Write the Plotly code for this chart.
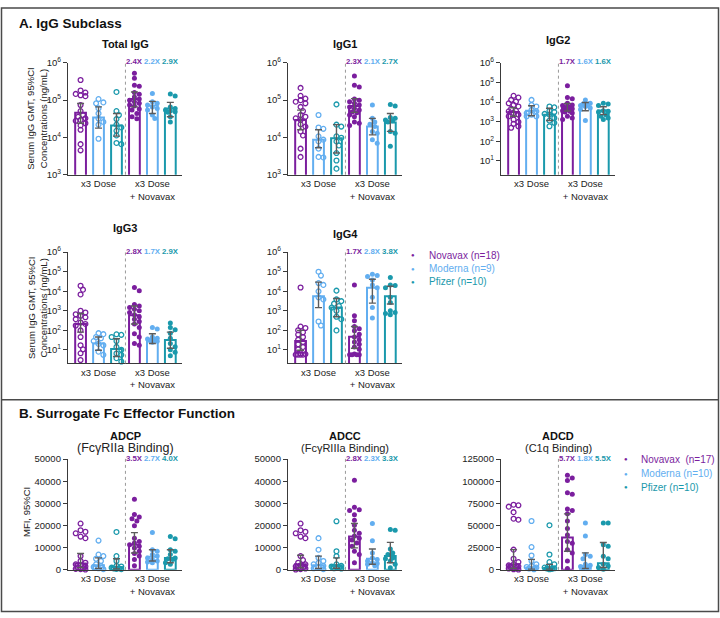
import math
import plotly.graph_objects as go

W, H = 720, 618
FONT = "Arial, Liberation Sans, Helvetica, sans-serif"
TXT = "#222222"
AX = "#3a3a3a"
PURPLE = "#7B1E9E"
MODERNA = "#62AEF0"
PFIZER = "#1A99AC"
GROUP_COLORS = [PURPLE, MODERNA, PFIZER, PURPLE, MODERNA, PFIZER]
GROUP_OPEN = [True, True, True, False, False, False]
CATEGORY_LABELS = ["x3 Dose", "x3 Dose<br>+ Novavax"]
FOLD_COLORS = [PURPLE, MODERNA, PFIZER]

# ---------------- data ----------------
# group order: Novavax x3, Moderna x3, Pfizer x3, Novavax +NVX, Moderna +NVX, Pfizer +NVX
TOTAL_IGG_POINTS = [
    [347000, 182000, 160000, 147000, 135000, 128000, 74000, 51000, 40000, 36000, 32500, 29500, 27800, 24000, 21000, 16000, 6600, 4500],
    [107000, 87000, 82000, 60000, 44000, 32000, 26000, 22000, 9200],
    [166000, 51000, 40000, 31000, 22000, 18500, 15000, 11300, 7100, 6600],
    [525000, 390000, 250000, 235000, 160000, 143000, 122000, 107000, 100000, 91000, 82000, 74000, 70000, 58000, 54000, 44000, 36000, 31500],
    [150000, 91000, 82000, 74000, 66000, 60000, 54000, 40000, 32000],
    [147000, 130000, 66000, 60000, 54000, 51000, 49000, 47000, 36000, 26000],
]
TOTAL_IGG_GMT = [46000, 34000, 21000, 107000, 72000, 60000]
TOTAL_IGG_CI_LO = [24000, 17700, 10800, 66000, 44000, 36000]
TOTAL_IGG_CI_HI = [81000, 66000, 44000, 166000, 93000, 87000]
TOTAL_IGG_FOLD = ["2.4X", "2.2X", "2.9X"]

IGG1_POINTS = [
    [213000, 131000, 110000, 100000, 91000, 82000, 66000, 51000, 40000, 36000, 32500, 29500, 22500, 19500, 14500, 11300, 5000, 3000],
    [40000, 18500, 17000, 10700, 8700, 7800, 5000, 3000, 2900],
    [77000, 22000, 19500, 10700, 9800, 7800, 6100, 3800, 2400, 1450],
    [445000, 250000, 225000, 107000, 100000, 91000, 82000, 74000, 66000, 60000, 54000, 48000, 46000, 40000, 36000, 26000, 24000, 21000],
    [74000, 32500, 26000, 22500, 19500, 14500, 13000, 8700, 7000],
    [76000, 70000, 34000, 32500, 29500, 28000, 26000, 14500, 13000, 5800],
]
IGG1_GMT = [29500, 8700, 9500, 70000, 19500, 25000]
IGG1_CI_LO = [16000, 5300, 3800, 47000, 11700, 14500]
IGG1_CI_HI = [54000, 16000, 22000, 110000, 32500, 44000]
IGG1_FOLD = ["2.3X", "2.1X", "2.7X"]

IGG2_POINTS = [
    [21000, 17000, 13000, 10700, 8700, 7200, 6000, 4600, 3600, 3400, 2750, 2300, 1900, 1300, 980, 780, 590, 490],
    [13000, 7200, 6000, 4000, 3400, 2750, 2300, 1900, 1900],
    [6000, 5400, 3600, 3100, 2500, 2300, 1550, 1150, 880, 590],
    [68000, 17000, 14700, 8700, 7200, 6700, 6000, 5400, 5000, 4600, 4200, 3600, 3400, 3100, 2750, 1900, 1550, 1300],
    [13000, 8700, 8000, 7200, 6700, 6000, 5000, 4200, 1150],
    [8700, 8000, 6700, 3600, 3400, 3100, 2300, 1900, 1550, 1300],
]
IGG2_GMT = [3100, 3600, 2300, 5300, 5800, 3700]
IGG2_CI_LO = [1900, 2000, 1150, 3500, 3600, 2300]
IGG2_CI_HI = [5200, 6500, 4900, 8500, 9500, 5800]
IGG2_FOLD = ["1.7X", "1.6X", "1.6X"]

IGG3_POINTS = [
    [19000, 12000, 6800, 1000, 810, 660, 550, 460, 370, 250, 210, 175, 98, 45, 17, 10.5, 6.6, 3.0],
    [71, 63, 45, 39, 28, 20, 17, 8, 5.5],
    [62, 58, 45, 28, 14, 10, 6.5, 5.5, 3.7, 2.5],
    [15500, 10700, 2100, 1750, 1450, 1180, 1000, 810, 620, 490, 370, 280, 210, 140, 66, 45, 21, 17],
    [140, 117, 45, 39, 36, 33, 30, 27, 24],
    [235, 140, 105, 71, 39, 21, 14.5, 10, 7.4, 5],
]
IGG3_GMT = [210, 21, 11, 580, 36, 32]
IGG3_CI_LO = [80, 9.5, 4.5, 210, 21, 12]
IGG3_CI_HI = [720, 45, 37, 1750, 66, 80]
IGG3_FOLD = ["2.8X", "1.7X", "2.9X"]

IGG4_POINTS = [
    [15500, 155, 130, 100, 78, 60, 45, 33, 25, 19, 14, 10.5, 6.6, 6, 5.6, 5.6, 5.6, 5.6],
    [100000, 63000, 26000, 21000, 9800, 4900, 3800, 280, 175],
    [10700, 3800, 3100, 2300, 1750, 1450, 1000, 490, 370, 98],
    [21000, 550, 310, 155, 120, 93, 63, 45, 33, 25, 19, 14, 10.5, 6, 5.6, 5.6, 5.6, 5.6],
    [73000, 63000, 56000, 38000, 21000, 15000, 4900, 1450, 420],
    [50000, 21000, 19800, 15000, 4900, 2600, 1000, 810, 720, 620],
]
IGG4_GMT = [28, 5500, 1450, 47, 15000, 5500]
IGG4_CI_LO = [9.5, 1450, 490, 12, 2450, 2200]
IGG4_CI_HI = [98, 29000, 4200, 155, 41000, 17800]
IGG4_FOLD = ["1.7X", "2.8X", "3.8X"]

ADCP_POINTS = [
    [20900, 17900, 17200, 16500, 15000, 14300, 6200, 4000, 3200, 2500, 2100, 1500, 1000, 700, 450, 300, 150],
    [13200, 6900, 6200, 5000, 4000, 2500, 1800, 1300, 700, 300],
    [17100, 6200, 4000, 1800, 1500, 1000, 700, 600, 450, 300],
    [31900, 25000, 23800, 23100, 22100, 19900, 14300, 12800, 12100, 11300, 10600, 9900, 8400, 7400, 6200, 4700, 1800],
    [16900, 9100, 8400, 6900, 6200, 5400, 4700, 4000, 3500, 3200],
    [15000, 14000, 9100, 8400, 6900, 5400, 5000, 4700, 3200, 2500],
]
ADCP_BAR = [2900, 2100, 1300, 11300, 5900, 5400]
ADCP_CI_LO = [1000, 600, 400, 7600, 4000, 3200]
ADCP_CI_HI = [7400, 5400, 5000, 16800, 9100, 9100]
ADCP_FOLD = ["3.5X", "2.7X", "4.0X"]

ADCC_POINTS = [
    [20900, 17900, 17200, 16500, 15000, 14300, 6200, 4400, 3200, 2500, 2100, 1600, 1200, 900, 600, 300, 150],
    [14300, 9100, 5400, 4000, 3200, 2500, 1800, 1300, 700, 300],
    [21900, 8400, 6200, 2500, 1800, 1500, 1300, 1000, 700, 600],
    [40400, 28200, 27100, 26800, 24900, 22400, 20100, 17900, 16500, 15300, 14300, 13500, 12100, 10600, 8400, 6900, 3200],
    [20900, 13100, 7600, 5400, 4700, 4000, 3200, 2900, 2500, 1800],
    [18200, 17900, 9400, 7600, 6900, 5400, 5000, 4000, 2500, 1000],
]
ADCC_BAR = [2500, 2100, 2100, 15000, 5000, 6200]
ADCC_CI_LO = [900, 600, 700, 9900, 2500, 3200]
ADCC_CI_HI = [6600, 6200, 5400, 20900, 9400, 12400]
ADCC_FOLD = ["2.8X", "2.3X", "3.3X"]

ADCD_POINTS = [
    [73500, 72800, 71300, 65100, 57700, 56600, 22800, 12500, 8800, 6200, 5100, 4000, 2900, 2200, 1500, 700, 400],
    [55100, 25700, 16200, 9900, 6200, 4400, 3300, 2600, 1500, 700],
    [50400, 17300, 8800, 6200, 3700, 2600, 1800, 1500, 1100, 700],
    [106600, 103700, 100700, 87100, 85300, 68700, 66900, 63200, 55100, 46700, 39300, 32000, 30100, 22800, 19100, 9900, 1500],
    [52900, 38200, 17300, 15400, 12500, 6200, 5100, 3700, 2600, 1500],
    [52900, 52900, 28300, 26500, 15400, 12500, 6200, 4400, 2600, 700],
]
ADCD_BAR = [6200, 2600, 2200, 36400, 4400, 7400]
ADCD_CI_LO = [1500, 700, 700, 21000, 1500, 2600]
ADCD_CI_HI = [22800, 11800, 6200, 63200, 19100, 30900]
ADCD_FOLD = ["5.7X", "1.8X", "5.5X"]

LEGEND_A = ["Novavax (n=18)", "Moderna (n=9)", "Pfizer (n=10)"]
LEGEND_B = ["Novavax  (n=17)", "Moderna (n=10)", "Pfizer (n=10)"]

LOG_TICKS_3 = [1e3, 1e4, 1e5, 1e6]
LOG_TICKS_1 = [1e1, 1e2, 1e3, 1e4, 1e5, 1e6]
LIN_TICKS_50 = [0, 10000, 20000, 30000, 40000, 50000]
LIN_TICKS_125 = [0, 25000, 50000, 75000, 100000, 125000]

# ---------------- layout geometry (pixels) ----------------
COL_X = [68, 288, 501]
AX_W = 114
ROW_Y = [(57, 171), (250, 363.5), (461, 574)]
XRANGE = [-0.7, 5.65]

PANELS = [
    dict(title="Total IgG", sub=None, col=0, row=0, log=True, yr=[3, 6], ticks=LOG_TICKS_3,
         pts=TOTAL_IGG_POINTS, bar=TOTAL_IGG_GMT, lo=TOTAL_IGG_CI_LO, hi=TOTAL_IGG_CI_HI, fold=TOTAL_IGG_FOLD, ty=38),
    dict(title="IgG1", sub=None, col=1, row=0, log=True, yr=[3, 6], ticks=LOG_TICKS_3,
         pts=IGG1_POINTS, bar=IGG1_GMT, lo=IGG1_CI_LO, hi=IGG1_CI_HI, fold=IGG1_FOLD, ty=38),
    dict(title="IgG2", sub=None, col=2, row=0, log=True, yr=[0.3, 6], ticks=LOG_TICKS_1,
         pts=IGG2_POINTS, bar=IGG2_GMT, lo=IGG2_CI_LO, hi=IGG2_CI_HI, fold=IGG2_FOLD, ty=34),
    dict(title="IgG3", sub=None, col=0, row=1, log=True, yr=[0.3, 6], ticks=LOG_TICKS_1,
         pts=IGG3_POINTS, bar=IGG3_GMT, lo=IGG3_CI_LO, hi=IGG3_CI_HI, fold=IGG3_FOLD, ty=225),
    dict(title="IgG4", sub=None, col=1, row=1, log=True, yr=[0.3, 6], ticks=LOG_TICKS_1,
         pts=IGG4_POINTS, bar=IGG4_GMT, lo=IGG4_CI_LO, hi=IGG4_CI_HI, fold=IGG4_FOLD, ty=231),
    dict(title="ADCP", sub="(FcγRIIa Binding)", subsize=12.5, col=0, row=2, log=False, yr=[0, 50000], ticks=LIN_TICKS_50,
         pts=ADCP_POINTS, bar=ADCP_BAR, lo=ADCP_CI_LO, hi=ADCP_CI_HI, fold=ADCP_FOLD, ty=437),
    dict(title="ADCC", sub="(FcγRIIIa Binding)", subsize=11, col=1, row=2, log=False, yr=[0, 50000], ticks=LIN_TICKS_50,
         pts=ADCC_POINTS, bar=ADCC_BAR, lo=ADCC_CI_LO, hi=ADCC_CI_HI, fold=ADCC_FOLD, ty=437),
    dict(title="ADCD", sub="(C1q Binding)", subsize=11, col=2, row=2, log=False, yr=[0, 125000], ticks=LIN_TICKS_125,
         pts=ADCD_POINTS, bar=ADCD_BAR, lo=ADCD_CI_LO, hi=ADCD_CI_HI, fold=ADCD_FOLD, ty=437),
]


def px_x(px):
    return px / W


def px_y(py):
    return 1 - py / H


def swarm(values, to_px, px_per_cat, diam=4.4, max_off=0.33):
    """Deterministic beeswarm offsets (category units) so points don't overlap."""
    order = sorted(range(len(values)), key=lambda i: -values[i])
    placed = []
    offs = [0.0] * len(values)
    step = diam * 0.55
    limit = max_off * px_per_cat
    cands = [0.0]
    k = 1
    while k * step <= limit:
        cands += [k * step, -k * step]
        k += 1
    for i in order:
        y = to_px(values[i])
        best, best_d, best_c = None, -1, 0.0
        for c in cands:
            d = min([math.hypot(c - px, y - py) for px, py in placed] or [99])
            if d >= diam:
                best = c
                break
            if d > best_d:
                best_d, best_c = d, c
        if best is None:
            best = best_c
        placed.append((best, y))
        offs[i] = best / px_per_cat
    return offs


fig = go.Figure()
layout = dict(
    width=W, height=H, margin=dict(l=0, r=0, t=0, b=0),
    paper_bgcolor="white", plot_bgcolor="white", showlegend=False,
    hovermode=False, font=dict(family=FONT, color=TXT, size=10),
)
annotations = []
shapes = []

for k, p in enumerate(PANELS, start=1):
    xs = "" if k == 1 else str(k)
    xname, yname = "x" + xs, "y" + xs
    x0 = COL_X[p["col"]]
    yt, yb = ROW_Y[p["row"]]
    hp = yb - yt
    px_per_cat = AX_W / (XRANGE[1] - XRANGE[0])
    r0, r1 = p["yr"]

    if p["log"]:
        ticktext = ["10<sup>%d</sup>" % round(math.log10(t)) for t in p["ticks"]]
        to_px = lambda v, r0=r0, r1=r1: (math.log10(v) - r0) / (r1 - r0) * hp
    else:
        ticktext = [str(int(t)) for t in p["ticks"]]
        to_px = lambda v, r0=r0, r1=r1: (v - r0) / (r1 - r0) * hp

    layout["xaxis" + xs] = dict(
        domain=[px_x(x0), px_x(x0 + AX_W)], range=XRANGE, anchor=yname,
        showline=True, linecolor=AX, linewidth=1.3, ticks="", showgrid=False, zeroline=False,
        tickvals=[1, 4], ticktext=CATEGORY_LABELS, tickfont=dict(size=9.5, color=TXT, family=FONT),
        fixedrange=True,
    )
    layout["yaxis" + xs] = dict(
        domain=[px_y(yb), px_y(yt)], type="log" if p["log"] else "linear", range=[r0, r1], anchor=xname,
        showline=True, linecolor=AX, linewidth=1.3, ticks="outside", ticklen=4, tickwidth=1.2, tickcolor=AX,
        showgrid=False, zeroline=False, tickvals=p["ticks"], ticktext=ticktext,
        tickfont=dict(size=9.5, color=TXT, family=FONT), fixedrange=True,
    )

    # bars
    fig.add_trace(go.Bar(
        x=list(range(6)), y=p["bar"], width=0.6, xaxis=xname, yaxis=yname,
        marker=dict(color="rgba(255,255,255,0)", line=dict(color=GROUP_COLORS, width=2)),
    ))
    # points
    for g in range(6):
        vals = p["pts"][g]
        offs = swarm(vals, to_px, px_per_cat)
        if GROUP_OPEN[g]:
            mk = dict(symbol="circle-open", size=4.8, color=GROUP_COLORS[g], line=dict(width=1.3))
        else:
            mk = dict(symbol="circle", size=5, color=GROUP_COLORS[g], line=dict(width=0))
        fig.add_trace(go.Scatter(
            x=[g + o for o in offs], y=vals, mode="markers", marker=mk,
            xaxis=xname, yaxis=yname, cliponaxis=False,
        ))
    # error bars
    fig.add_trace(go.Scatter(
        x=list(range(6)), y=p["bar"], mode="markers", xaxis=xname, yaxis=yname,
        marker=dict(size=1, color="rgba(0,0,0,0)"),
        error_y=dict(type="data", symmetric=False,
                     array=[h - b for h, b in zip(p["hi"], p["bar"])],
                     arrayminus=[b - l for b, l in zip(p["bar"], p["lo"])],
                     color="#5c5c5c", thickness=1.4, width=3.5),
        cliponaxis=False,
    ))
    # dotted separator
    shapes.append(dict(type="line", xref=xname, yref="paper", x0=2.5, x1=2.5,
                       y0=px_y(yb), y1=px_y(yt - 2), line=dict(color="#9a9a9a", width=1, dash="dot")))
    # fold-change labels
    for j, lab in enumerate(p["fold"]):
        annotations.append(dict(xref=xname, yref="paper", x=3 + j, y=px_y(yt - 1), text="<b>%s</b>" % lab,
                                showarrow=False, font=dict(size=7.8, color=FOLD_COLORS[j], family=FONT),
                                xanchor="center", yanchor="middle"))
    # titles
    cx = x0 + AX_W / 2
    annotations.append(dict(xref="paper", yref="paper", x=px_x(cx), y=px_y(p["ty"]), text="<b>%s</b>" % p["title"],
                            showarrow=False, font=dict(size=11, color="#111", family=FONT),
                            xanchor="center", yanchor="middle"))
    if p["sub"]:
        annotations.append(dict(xref="paper", yref="paper", x=px_x(cx), y=px_y(p["ty"] + 13), text=p["sub"],
                                showarrow=False, font=dict(size=p["subsize"], color=TXT, family=FONT),
                                xanchor="center", yanchor="middle"))

# section titles
annotations.append(dict(xref="paper", yref="paper", x=px_x(17), y=px_y(17), text="<b>A. IgG Subclass</b>",
                        showarrow=False, xanchor="left", yanchor="middle", font=dict(size=13.5, color="#111", family=FONT)))
annotations.append(dict(xref="paper", yref="paper", x=px_x(17), y=px_y(415),
                        text="<b>B. Surrogate Fc Effector Function</b>",
                        showarrow=False, xanchor="left", yanchor="middle", font=dict(size=13.5, color="#111", family=FONT)))

# y axis titles
for yc in (114, 307):
    annotations.append(dict(xref="paper", yref="paper", x=px_x(37), y=px_y(yc),
                            text="Serum IgG GMT, 95%CI<br>Concentrations (ng/mL)", textangle=-90,
                            showarrow=False, xanchor="center", yanchor="middle",
                            font=dict(size=9.5, color=TXT, family=FONT)))
annotations.append(dict(xref="paper", yref="paper", x=px_x(26), y=px_y(515), text="MFI, 95%CI", textangle=-90,
                        showarrow=False, xanchor="center", yanchor="middle", font=dict(size=9.5, color=TXT, family=FONT)))

# legends
for labels, mx, tx, ys in ((LEGEND_A, 413, 427, [253, 267, 280]), (LEGEND_B, 626, 639, [461, 476, 490])):
    for lab, col, yy in zip(labels, FOLD_COLORS, ys):
        annotations.append(dict(xref="paper", yref="paper", x=px_x(mx), y=px_y(yy), text="●", showarrow=False,
                                xanchor="center", yanchor="middle", font=dict(size=6, color=col, family=FONT)))
        annotations.append(dict(xref="paper", yref="paper", x=px_x(tx), y=px_y(yy), text=lab, showarrow=False,
                                xanchor="left", yanchor="middle", font=dict(size=10, color=col, family=FONT)))

# frame and divider
shapes.append(dict(type="rect", xref="paper", yref="paper", x0=px_x(1.5), x1=px_x(718.5), y0=px_y(616.5), y1=px_y(1),
                   line=dict(color="#4a4a4a", width=1.5)))
shapes.append(dict(type="line", xref="paper", yref="paper", x0=px_x(1.5), x1=px_x(718.5), y0=px_y(400.5), y1=px_y(400.5),
                   line=dict(color="#4a4a4a", width=1.5)))

layout["annotations"] = annotations
layout["shapes"] = shapes
fig.update_layout(**layout)
fig.write_html("out.html", config={"displayModeBar": False},
               post_script="document.body.style.margin='0px';document.body.style.overflow='hidden';")
